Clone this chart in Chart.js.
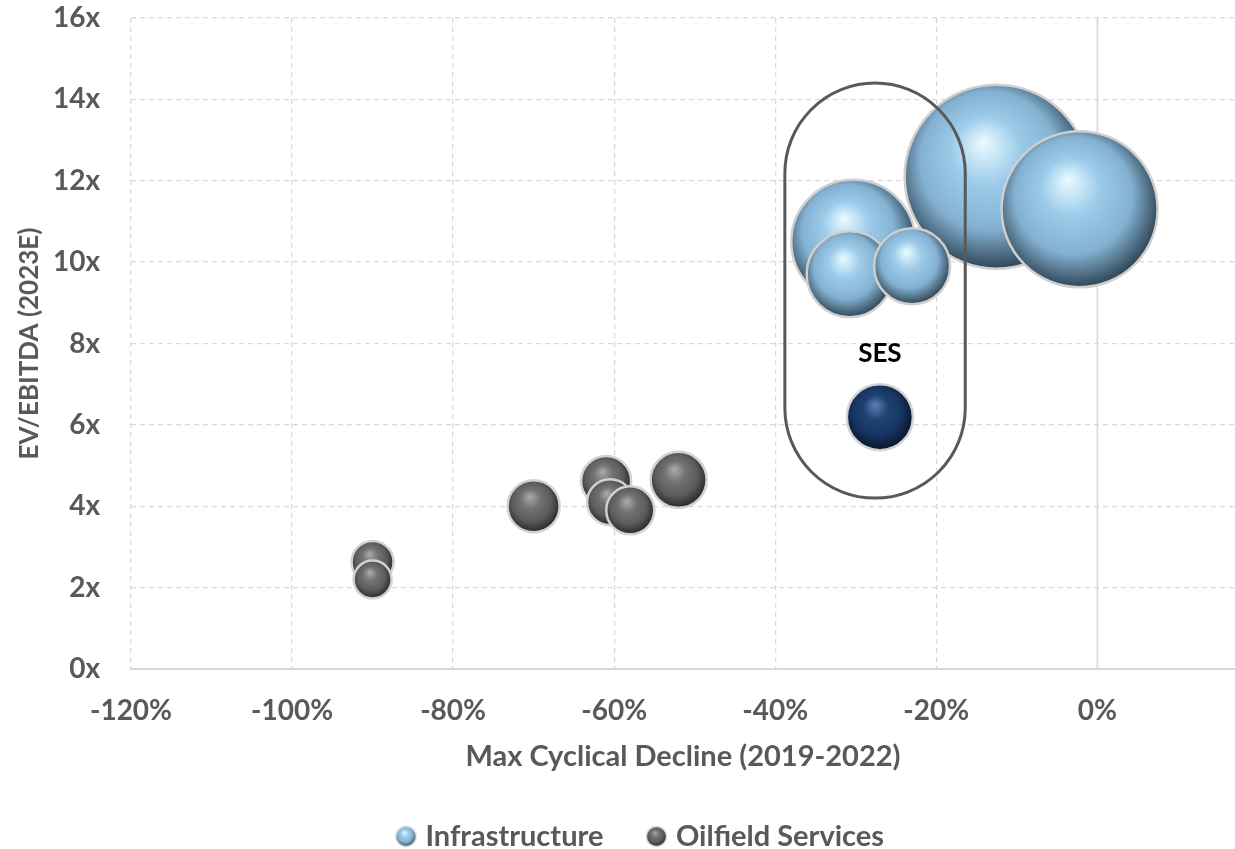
<!DOCTYPE html>
<html>
<head>
<meta charset="utf-8">
<script src="https://cdn.jsdelivr.net/npm/chart.js@4.4.1/dist/chart.umd.min.js"></script>
<style>
  html, body { margin: 0; padding: 0; background: #ffffff; overflow: hidden; }
  #wrap { width: 1235px; height: 849px; position: relative; }
</style>
</head>
<body>
<div id="wrap"><canvas id="chart"></canvas></div>
<script>
// Max cyclical decline (%) vs EV/EBITDA (x), bubble radius in px
const infraX    = [-12.5, -2.2, -30.3, -30.75, -23.0];
const infraY    = [12.1, 11.3, 10.5, 9.7, 9.9];
const infraSize = [92, 78, 62, 43, 38];

const oilX    = [-52.0, -70.0, -61.0, -60.5, -58.0, -90.0, -90.0];
const oilY    = [4.65, 4.0, 4.62, 4.1, 3.9, 2.63, 2.2];
const oilSize = [28, 26, 25, 23, 24, 21, 19];

const sesX    = [-27.0];
const sesY    = [6.19];
const sesSize = [33];

const xTicks = [-120, -100, -80, -60, -40, -20, 0];
const yTicks = [0, 2, 4, 6, 8, 10, 12, 14, 16];

const seriesNames = ['Infrastructure', 'Oilfield Services', 'SES'];

// Peer-group outline around SES and its closest comparables (data units)
const groupBox = { xMin: -38.8, xMax: -16.4, yMin: 4.2, yMax: 14.4 };
const sesLabelY = 7.76;

const FONT = 'Lato, "Open Sans", "DejaVu Sans", sans-serif';
const TEXT = '#595959';
const GRID = '#d9d9d9';

const palettes = {
  infra: { hi: '#eafcff', base: '#9ccbea', mid: '#84b1d1', edge: '#2c4252' },
  oil:   { hi: '#acacac', base: '#727272', mid: '#5c5c5c', edge: '#262626' },
  ses:   { hi: '#5a80b8', base: '#1f4272', mid: '#163460', edge: '#071326' }
};

function sphereGradient(ctx, cx, cy, r, pal) {
  const g = ctx.createRadialGradient(cx - r * 0.15, cy - r * 0.38, 0, cx - r * 0.05, cy - r * 0.08, r * 1.1);
  g.addColorStop(0, pal.hi);
  g.addColorStop(0.34, pal.base);
  g.addColorStop(0.68, pal.mid);
  g.addColorStop(1, pal.edge);
  return g;
}

function sphereFill(pal) {
  return (c) => {
    if (c.type !== 'data' || !c.raw) return pal.base;
    const sx = c.chart.scales.x, sy = c.chart.scales.y;
    if (!sx || !sy) return pal.base;
    const cx = sx.getPixelForValue(c.raw.x);
    const cy = sy.getPixelForValue(c.raw.y);
    if (!isFinite(cx) || !isFinite(cy)) return pal.base;
    return sphereGradient(c.chart.ctx, cx, cy, c.raw.r, pal);
  };
}

function legendIcon(pal) {
  const cv = document.createElement('canvas');
  cv.width = 23; cv.height = 23;
  const ctx = cv.getContext('2d');
  ctx.beginPath();
  ctx.arc(11.5, 11.5, 10, 0, Math.PI * 2);
  ctx.fillStyle = sphereGradient(ctx, 11.5, 11.5, 10, pal);
  ctx.fill();
  ctx.lineWidth = 1.3;
  ctx.strokeStyle = '#d4d4d4';
  ctx.stroke();
  return cv;
}

const toPoints = (xs, ys, rs) => xs.map((x, i) => ({ x: x, y: ys[i], r: rs[i] }));

const icons = [legendIcon(palettes.infra), legendIcon(palettes.oil)];

// Solid vertical line at 0%, the group outline and the SES caption
const overlay = {
  id: 'overlay',
  beforeDatasetsDraw(chart) {
    const { ctx, chartArea, scales: { x } } = chart;
    const px = x.getPixelForValue(0);
    ctx.save();
    ctx.strokeStyle = GRID;
    ctx.lineWidth = 1.5;
    ctx.beginPath();
    ctx.moveTo(px, chartArea.top);
    ctx.lineTo(px, chartArea.bottom);
    ctx.stroke();
    ctx.restore();
  },
  afterDatasetsDraw(chart) {
    const { ctx, scales: { x, y } } = chart;
    const l = x.getPixelForValue(groupBox.xMin), rgt = x.getPixelForValue(groupBox.xMax);
    const t = y.getPixelForValue(groupBox.yMax), b = y.getPixelForValue(groupBox.yMin);
    const rad = (rgt - l) / 2;
    ctx.save();
    ctx.strokeStyle = '#595959';
    ctx.lineWidth = 3;
    ctx.beginPath();
    ctx.roundRect(l, t, rgt - l, b - t, rad);
    ctx.stroke();
    ctx.fillStyle = '#000000';
    ctx.font = 'bold 26px ' + FONT;
    ctx.textAlign = 'center';
    ctx.textBaseline = 'middle';
    ctx.fillText('SES', x.getPixelForValue(sesX[0]), y.getPixelForValue(sesLabelY));
    ctx.restore();
  }
};

new Chart(document.getElementById('chart'), {
  type: 'bubble',
  data: {
    datasets: [
      {
        label: seriesNames[0],
        data: toPoints(infraX, infraY, infraSize),
        backgroundColor: sphereFill(palettes.infra),
        borderColor: '#cfcfcf',
        borderWidth: 2.5
      },
      {
        label: seriesNames[1],
        data: toPoints(oilX, oilY, oilSize),
        backgroundColor: sphereFill(palettes.oil),
        borderColor: '#d2d2d2',
        borderWidth: 2.5
      },
      {
        label: seriesNames[2],
        data: toPoints(sesX, sesY, sesSize),
        backgroundColor: sphereFill(palettes.ses),
        borderColor: '#d2d2d2',
        borderWidth: 2.5
      }
    ]
  },
  options: {
    responsive: true,
    maintainAspectRatio: false,
    animation: false,
    events: [],
    layout: { autoPadding: false, padding: { top: 18, right: 0, left: 50, bottom: -12 } },
    scales: {
      x: {
        type: 'linear',
        min: -120,
        max: 17.1,
        afterBuildTicks(scale) { scale.ticks = xTicks.map(v => ({ value: v })); },
        afterFit(scale) { scale.height = 105; },
        ticks: {
          padding: 25,
          color: TEXT,
          font: { family: FONT, size: 28, weight: 'bold' },
          callback: v => v + '%'
        },
        grid: { color: GRID, lineWidth: 1.3, drawTicks: false },
        border: { display: true, color: GRID, width: 2, dash: [5, 4] },
        title: {
          display: true,
          text: 'Max Cyclical Decline (2019-2022)',
          color: TEXT,
          font: { family: FONT, size: 29, weight: 'bold' },
          padding: { top: 0, bottom: 0 }
        }
      },
      y: {
        type: 'linear',
        min: 0,
        max: 16,
        afterBuildTicks(scale) { scale.ticks = yTicks.map(v => ({ value: v })); },
        afterFit(scale) { scale.width = 81; },
        ticks: {
          padding: 0,
          color: TEXT,
          font: { family: FONT, size: 28, weight: 'bold' },
          callback: v => v + 'x'
        },
        grid: { color: GRID, lineWidth: 1.3, drawTicks: true, tickLength: 31, tickColor: 'rgba(0,0,0,0)' },
        border: { display: false, dash: [5, 4] },
        title: {
          display: true,
          text: 'EV/EBITDA (2023E)',
          color: TEXT,
          font: { family: FONT, size: 26, weight: 'bold' },
          padding: { top: -36, bottom: 0 }
        }
      }
    },
    plugins: {
      tooltip: { enabled: false },
      legend: {
        position: 'bottom',
        labels: {
          usePointStyle: true,
          pointStyleWidth: 10,
          padding: 48,
          color: TEXT,
          font: { family: FONT, size: 29, weight: 'bold' },
          generateLabels(chart) {
            return chart.data.datasets.slice(0, 2).map((ds, i) => ({
              text: ds.label,
              pointStyle: icons[i],
              fillStyle: 'rgba(0,0,0,0)',
              strokeStyle: 'rgba(0,0,0,0)',
              lineWidth: 0,
              hidden: false,
              datasetIndex: i,
              fontColor: TEXT
            }));
          }
        }
      }
    }
  },
  plugins: [overlay]
});
</script>
</body>
</html>
